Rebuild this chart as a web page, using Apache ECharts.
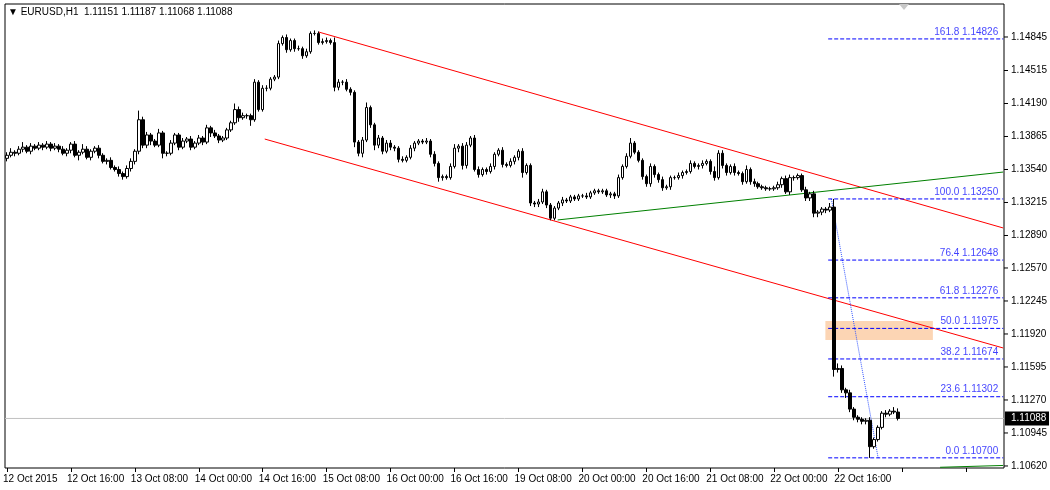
<!DOCTYPE html>
<html><head><meta charset="utf-8">
<script src="https://cdn.jsdelivr.net/npm/echarts@6/dist/echarts.min.js"></script>
<style>html,body{margin:0;padding:0;background:#fff}#c{width:1050px;height:490px}</style>
</head><body><div id="c"></div>
<script>
const closes = [
1.1368,1.1371,1.1370,1.1374,1.1376,1.1372,1.1377,1.1375,
1.1378,1.1376,1.1379,1.1375,1.1377,1.1374,1.1370,1.1373,
1.1379,1.1368,1.1371,1.1374,1.1366,1.1372,1.1375,1.1368,
1.1362,1.1363,1.1356,1.1354,1.1350,1.1347,1.1355,1.1362,
1.1372,1.1403,1.1378,1.1388,1.1382,1.1378,1.1390,1.1370,
1.1370,1.1380,1.1388,1.1376,1.1382,1.1384,1.1376,1.1380,
1.1385,1.1381,1.1395,1.1390,1.1387,1.1383,1.1385,1.1393,
1.1400,1.1413,1.1405,1.1407,1.1407,1.1403,1.1440,1.1413,
1.1434,1.1434,1.1443,1.1445,1.1478,1.1484,1.1472,1.1481,
1.1473,1.1473,1.1466,1.1470,1.1488,1.1488,1.1479,1.1480,
1.1481,1.1479,1.1435,1.1440,1.1440,1.1433,1.1430,1.1381,
1.1370,1.1383,1.1415,1.1398,1.1378,1.1385,1.1372,1.1380,
1.1376,1.1375,1.1364,1.1363,1.1366,1.1375,1.1380,1.1382,
1.1381,1.1382,1.1369,1.1360,1.1346,1.1347,1.1346,1.1357,
1.1375,1.1377,1.1358,1.1378,1.1385,1.1354,1.1349,1.1354,
1.1352,1.1357,1.1369,1.1373,1.1359,1.1358,1.1362,1.1366,
1.1372,1.1351,1.1358,1.1321,1.1320,1.1322,1.1332,1.1319,
1.1306,1.1316,1.1321,1.1324,1.1323,1.1327,1.1325,1.1328,
1.1328,1.1327,1.1331,1.1333,1.1332,1.1333,1.1329,1.1330,
1.1328,1.1346,1.1357,1.1367,1.1380,1.1371,1.1363,1.1347,
1.1340,1.1357,1.1349,1.1344,1.1336,1.1337,1.1346,1.1346,
1.1348,1.1351,1.1352,1.1360,1.1357,1.1358,1.1360,1.1362,
1.1352,1.1346,1.1370,1.1358,1.1351,1.1357,1.1351,1.1350,
1.1342,1.1354,1.1342,1.1340,1.1337,1.1336,1.1335,1.1335,
1.1336,1.1339,1.1345,1.1332,1.1346,1.1346,1.1348,1.1334,
1.1326,1.1330,1.1311,1.1312,1.1315,1.1314,1.1317,1.1157,
1.1158,1.1137,1.1134,1.1118,1.1110,1.1108,1.1106,1.1107,
1.1081,1.1088,1.1100,1.1114,1.1113,1.1116,1.11151,1.11088];
const firstOpen = 1.1365;
// upper / lower wick lengths in pips (0.0001)
const upWick = [
3,4,2,3,5,2,3,2, 3,2,3,2,3,2,3,2, 2,3,2,5,3,2,2,3, 2,2,3,2,3,2,3,3,
2,9,3,3,2,2,4,2, 2,3,2,2,3,2,3,2, 3,2,3,2,3,2,2,2, 2,6,3,3,2,2,3,2,
3,3,2,2,3,2,3,2, 2,3,2,3,2,3,2,3, 3,2,5,3,2,3,2,2, 2,3,5,2,2,3,2,3,
3,2,2,3,2,3,2,2, 2,3,2,3,2,2,2,3, 4,2,3,3,2,3,3,2, 2,3,2,2,3,2,3,2,
2,3,2,2,2,3,3,2, 2,2,2,3,2,2,2,2, 2,3,2,2,2,2,2,2, 2,3,2,3,5,2,2,2,
2,3,2,2,3,2,2,2, 3,2,2,3,2,2,3,2, 2,5,3,3,2,2,3,2, 2,4,2,3,2,2,2,2,
2,3,2,3,3,2,2,2, 3,2,3,2,2,2,4,8, 5,3,2,3,2,2,2,2, 3,2,2,2,3,2,4,4];
const lowWick = [
3,2,3,2,3,2,3,2, 2,3,2,3,2,3,2,3, 3,2,5,2,2,3,2,3, 2,3,2,2,3,3,2,3,
3,3,3,3,4,2,2,5, 3,2,2,3,2,2,3,2, 2,3,2,4,2,3,2,2, 2,2,4,2,3,6,2,2,
2,3,2,2,2,2,3,2, 3,2,3,2,2,2,2,2, 2,2,4,3,3,2,3,5, 3,4,2,3,5,3,3,2,
3,3,3,2,2,2,3,2, 2,2,3,3,4,3,2,2, 2,4,4,3,2,2,3,2, 3,2,3,2,3,2,2,3,
3,5,2,3,3,3,2,3, 2,2,2,3,2,2,2,2, 2,2,2,2,2,2,2,3, 3,2,2,2,2,2,2,3,
3,3,3,3,3,2,3,2, 2,3,2,2,2,3,3,2, 3,3,2,3,3,2,3,2, 3,2,3,3,2,2,2,2,
2,2,3,2,3,3,2,2, 3,3,4,4,3,3,2,7, 3,3,5,3,3,3,3,3, 11,2,2,2,3,2,2,2];
const tickLabels = ['12 Oct 2015','12 Oct 16:00','13 Oct 08:00','14 Oct 00:00','14 Oct 16:00','15 Oct 08:00','16 Oct 00:00','16 Oct 16:00','19 Oct 08:00','20 Oct 00:00','20 Oct 16:00','21 Oct 08:00','22 Oct 00:00','22 Oct 16:00'];
const yTicks = [1.10620,1.10945,1.11270,1.11595,1.11920,1.12245,1.12570,1.12890,1.13215,1.13540,1.13865,1.14190,1.14515,1.14845];
const fibRatios = ['161.8','100.0','76.4','61.8','50.0','38.2','23.6','0.0'];
const fibLevels = [1.14826,1.13250,1.12648,1.12276,1.11975,1.11674,1.11302,1.10700];
const upperChannel = [[78,1.14894],[249.3,1.12964]];
const lowerChannel = [[64.5,1.13840],[249.3,1.11782]];
const greenLine = [[137.8,1.13043],[249.3,1.13515]];
const greenLine2 = [[233.5,1.10607],[249.3,1.10625]];
const fibDiag = [[206.3,1.13250],[218,1.10700]];
const fibStart = 205.5, fibEnd = 249.3;
const zone = [[204.8,1.12048],[231.7,1.11861]];
const lastPrice = 1.11088;
const titleText = '▼ EURUSD,H1  1.11151 1.11187 1.11068 1.11088';

const NCAT = 250;
const cats = Array.from({length:NCAT},(_,i)=>String(i));
const candles = closes.map((c,i)=>{
  const o = i===0?firstOpen:closes[i-1];
  return [o,c,Math.min(o,c)-lowWick[i]*0.0001,Math.max(o,c)+upWick[i]*0.0001];
});
candles[223]=[1.11151,1.11088,1.11068,1.11187];
const YMIN=1.10600, YMAX=1.15170;
const FONT='Liberation Sans';
function lineSeries(data,color,type,width){
  return {type:'line',xAxisIndex:1,data:data,symbol:'none',silent:true,
    lineStyle:{color:color,width:width||1,type:type||'solid'},z:3,animation:false};
}
const series=[
  {type:'candlestick',data:candles,barWidth:3,z:5,
   itemStyle:{color:'#ffffff',color0:'#000000',borderColor:'#000000',borderColor0:'#000000',borderWidth:1}},
  Object.assign(lineSeries([[-0.5,YMIN],[-0.5,YMIN]],'#fff'),{markArea:{silent:true,itemStyle:{color:'#fcd5b4'},data:[[{coord:zone[0]},{coord:zone[1]}]]},z:1}),
  lineSeries([[-0.5,lastPrice],[249.5,lastPrice]],'#c0c0c0'),
  lineSeries(upperChannel,'#ff0000'),
  lineSeries(lowerChannel,'#ff0000'),
  lineSeries(greenLine,'#008000'),
  lineSeries(greenLine2,'#008000'),
  lineSeries(fibDiag,'#3355ff','dotted')
];
fibLevels.forEach(v=>series.push(lineSeries([[fibStart,v],[fibEnd,v]],'#0000ff','dashed')));
series.push({type:'scatter',xAxisIndex:1,symbolSize:0,silent:true,z:6,
  data:fibLevels.map((v,k)=>({value:[fibEnd-0.5,v],label:{formatter:fibRatios[k]+' '+v.toFixed(5)}})),
  label:{show:true,position:'left',offset:[2,-7],color:'#1010ff',fontFamily:FONT,fontSize:10}});

const chart=echarts.init(document.getElementById('c'),null,{renderer:'canvas'});
chart.setOption({
  animation:false,backgroundColor:'#fff',
  grid:{left:4,right:46,top:4,bottom:22,show:true,borderColor:'#000',borderWidth:1,backgroundColor:'#fff'},
  xAxis:[
   {type:'category',data:cats,boundaryGap:true,axisLine:{show:false},
    axisTick:{show:true,interval:(i)=>i%16===0,length:4,lineStyle:{color:'#000'},alignWithLabel:true},
    axisLabel:{interval:(i)=>i%16===0,formatter:(v,i)=>tickLabels[i/16]||'',align:'left',margin:6,
      color:'#000',fontFamily:FONT,fontSize:10,padding:[0,0,0,-4]},splitLine:{show:false}},
   {type:'value',min:-0.5,max:NCAT-0.5,show:false}
  ],
  yAxis:{type:'value',position:'right',min:YMIN,max:YMAX,axisLabel:{show:false},axisTick:{show:false},
    splitLine:{show:false},axisLine:{show:false}},
  series:series
});
const g=[];
yTicks.forEach(v=>{
  const y=chart.convertToPixel({yAxisIndex:0},v);
  g.push({type:'line',shape:{x1:1004,y1:y,x2:1008,y2:y},style:{stroke:'#000'}});
  g.push({type:'text',x:1011,y:y,style:{text:v.toFixed(5),fill:'#000',font:'10px '+FONT,textVerticalAlign:'middle'}});
});
const yl=chart.convertToPixel({yAxisIndex:0},lastPrice);
g.push({type:'rect',shape:{x:1005,y:yl-7,width:44,height:14},style:{fill:'#000'},z:20});
g.push({type:'text',x:1011,y:yl,z:21,style:{text:lastPrice.toFixed(5),fill:'#fff',font:'10px '+FONT,textVerticalAlign:'middle'}});
g.push({type:'text',x:8,y:7,style:{text:titleText,fill:'#000',font:'10px '+FONT}});
g.push({type:'polygon',shape:{points:[[899,4],[909,4],[904,10]]},style:{fill:'#c8c8c8'}});
chart.setOption({graphic:g});
</script></body></html>
